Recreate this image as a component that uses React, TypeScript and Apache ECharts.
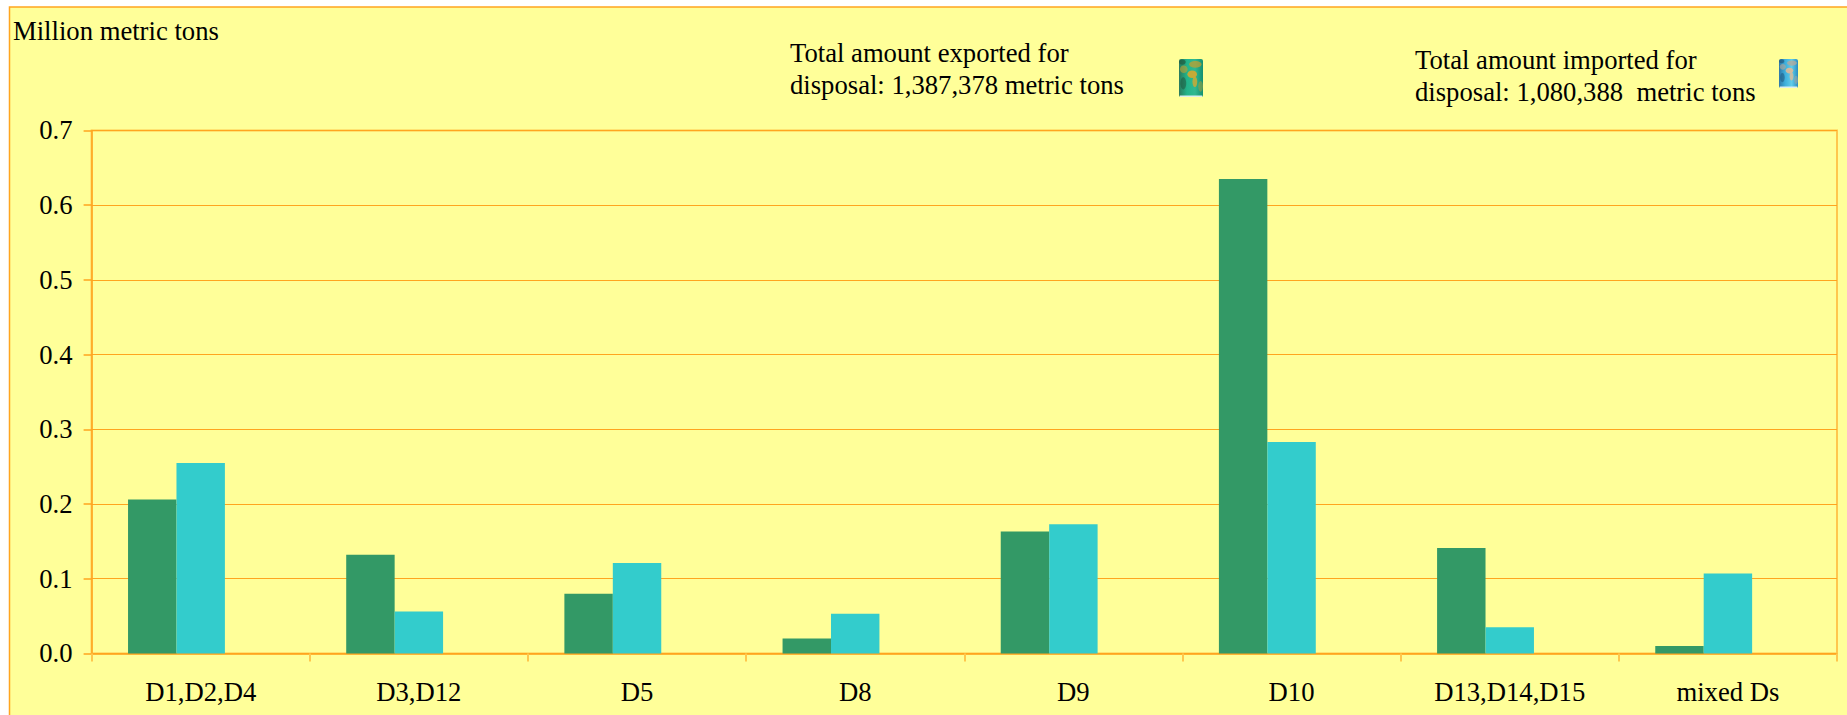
import React, { useEffect, useRef } from "react";
import * as echarts from "echarts";

const categories = ["D1,D2,D4", "D3,D12", "D5", "D8", "D9", "D10", "D13,D14,D15", "mixed Ds"];
const exported = [0.206, 0.132, 0.08, 0.02, 0.163, 0.635, 0.141, 0.01];
const imported = [0.255, 0.056, 0.121, 0.053, 0.173, 0.283, 0.035, 0.107];
const reservedSlot = [null, null, null, null, null, null, null, null];
const exportNote = ["Total amount exported for", "disposal: 1,387,378 metric tons"];
const importNote = ["Total amount imported for", "disposal: 1,080,388  metric tons"];
const unitLabel = "Million metric tons";

const FONT = '"Liberation Serif", serif';
const ORANGE = "#FFA51F";
const SOFT = "#FFC74D";
const YELLOW = "#FFFF99";
const SIZE = 26.67;

function barrel(x: number, y: number, w: number, h: number, stops: string[], blobs: string[], dark: string) {
  const n = stops.length - 1;
  const patch = (cx: number, cy: number, rx: number, ry: number, fill: string, opacity: number) => ({
    type: "ellipse",
    shape: { cx: w * cx, cy: h * cy, rx: w * rx, ry: h * ry },
    style: { fill, opacity },
  });
  return {
    type: "group",
    x,
    y,
    silent: true,
    children: [
      {
        type: "rect",
        shape: { x: 0, y: 0, width: w, height: h, r: 2 },
        style: {
          fill: new echarts.graphic.LinearGradient(0, 0, 1, 0, stops.map((color, i) => ({ offset: i / n, color }))),
        },
      },
      patch(0.14, 0.08, 0.14, 0.07, dark, 0.7),
      patch(0.68, 0.14, 0.26, 0.09, blobs[0], 0.75),
      patch(0.2, 0.27, 0.16, 0.1, blobs[0], 0.6),
      patch(0.55, 0.4, 0.2, 0.1, blobs[1], 0.85),
      patch(0.66, 0.6, 0.1, 0.14, blobs[1], 0.75),
      patch(0.18, 0.64, 0.12, 0.16, dark, 0.55),
      patch(0.9, 0.72, 0.1, 0.14, blobs[0], 0.45),
      { type: "rect", shape: { x: 1, y: h - 1.5, width: w - 2, height: 1.5 }, style: { fill: "#DDEEEE" } },
    ],
  };
}

function note(x: number, y: number, lines: string[]) {
  return {
    type: "text",
    x,
    y,
    silent: true,
    style: { text: lines.join("\n"), font: `${SIZE}px ${FONT}`, fill: "#000", lineHeight: 32, textVerticalAlign: "top" },
  };
}

export default function App() {
  const ref = useRef<HTMLDivElement>(null);
  useEffect(() => {
    const chart = echarts.init(ref.current!, undefined, { renderer: "svg" });
    const seriesBase = { type: "bar", barGap: 0, barCategoryGap: "33.4%", silent: true };
    chart.setOption({
      animation: false,
      backgroundColor: "#FFFFFF",
      grid: { left: 91.6, top: 130.4, right: 10, bottom: 61.6, show: true, borderColor: SOFT, borderWidth: 2, backgroundColor: "transparent" },
      xAxis: {
        type: "category",
        data: categories,
        axisLine: { lineStyle: { color: ORANGE, width: 1.5 } },
        axisTick: { show: true, alignWithLabel: false, length: 8, lineStyle: { color: SOFT, width: 2 } },
        axisLabel: { fontFamily: FONT, fontSize: SIZE, color: "#000", margin: 25 },
      },
      yAxis: {
        type: "value",
        min: 0,
        max: 0.7,
        interval: 0.1,
        axisLine: { show: true, lineStyle: { color: ORANGE, width: 1.5 } },
        axisTick: { show: true, length: 8, lineStyle: { color: ORANGE, width: 1.5 } },
        splitLine: { show: true, lineStyle: { color: ORANGE, width: 1 } },
        axisLabel: { fontFamily: FONT, fontSize: SIZE, color: "#000", margin: 19, formatter: (v: number) => v.toFixed(1) },
      },
      series: [
        { ...seriesBase, name: "Exported", data: exported, itemStyle: { color: "#339966" } },
        { ...seriesBase, name: "Imported", data: imported, itemStyle: { color: "#33CCCC" } },
        { ...seriesBase, name: "", data: reservedSlot, itemStyle: { color: "#FFFF99" } },
      ],
      graphic: [
        {
          type: "rect",
          z: -10,
          silent: true,
          shape: { x: 9.5, y: 7, width: 1860, height: 730 },
          style: { fill: YELLOW, stroke: ORANGE, lineWidth: 1.5 },
        },
        {
          type: "text",
          x: 13,
          y: 17,
          silent: true,
          style: { text: unitLabel, font: `${SIZE}px ${FONT}`, fill: "#000" },
        },
        note(790, 37, exportNote),
        note(1415, 44, importNote),
        barrel(1179, 59, 24, 38, ["#2A7A5C", "#22B48A", "#30B890", "#159070"], ["#C0A030", "#E0A828"], "#1F5A40"),
        barrel(1779, 59, 19, 29, ["#2F78A8", "#3FB0DC", "#60CCE8", "#2C8CC0"], ["#B8A898", "#E8B890"], "#1F5A80"),
      ],
    });
    return () => chart.dispose();
  }, []);
  return <div ref={ref} style={{ position: "absolute", left: 0, top: 0, width: 1847, height: 715, overflow: "hidden" }} />;
}
